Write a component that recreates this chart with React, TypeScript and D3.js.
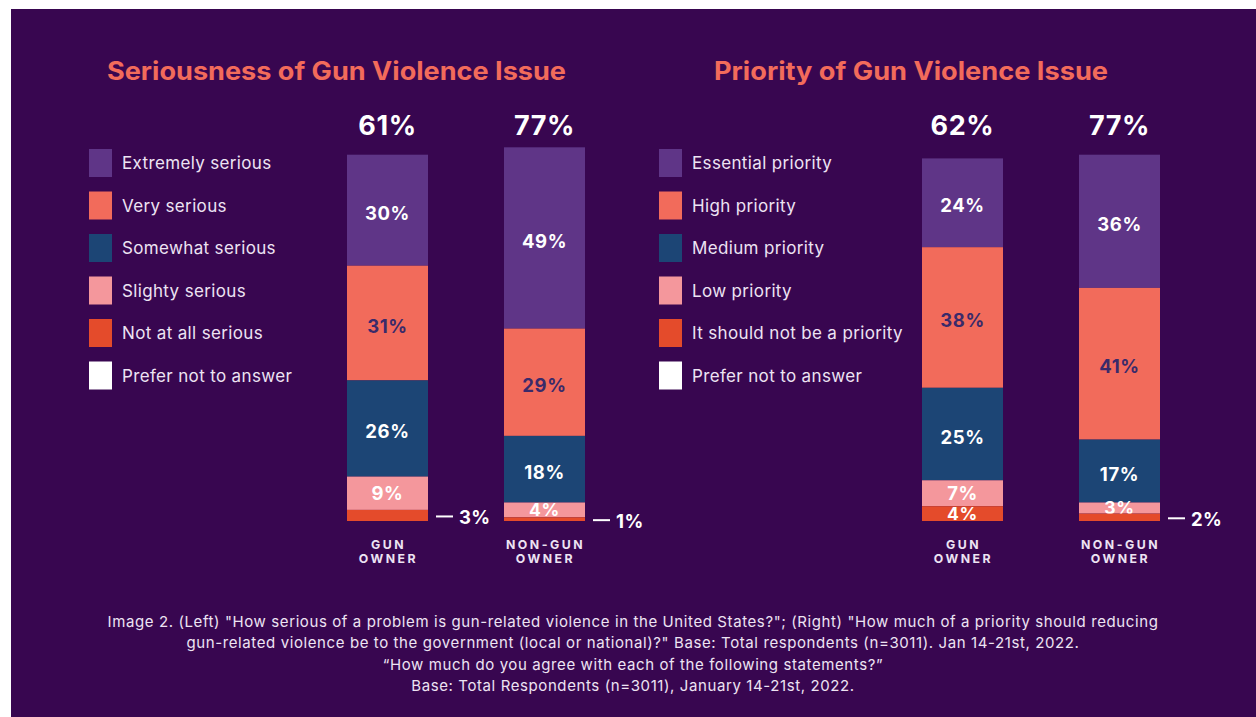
import React from "react";
import * as d3 from "d3";

const groups = ["GUN OWNER", "NON-GUN OWNER"];

const seriousCats = ["Extremely serious", "Very serious", "Somewhat serious", "Slighty serious", "Not at all serious", "Prefer not to answer"];
const seriousGun = [30, 31, 26, 9, 3, 0];
const seriousNonGun = [49, 29, 18, 4, 1, 0];
const seriousTotals = ["61%", "77%"];

const priorityCats = ["Essential priority", "High priority", "Medium priority", "Low priority", "It should not be a priority", "Prefer not to answer"];
const priorityGun = [24, 38, 25, 7, 4, 0];
const priorityNonGun = [36, 41, 17, 3, 2, 0];
const priorityTotals = ["62%", "77%"];

const catColors = ["#5F3587", "#F26B5B", "#1C4575", "#F4979C", "#E44B2B", "#FFFFFF"];
const labelColors = ["#FFFFFF", "#3A2A6A", "#FFFFFF", "#FFFFFF", "#FFFFFF", "#FFFFFF"];

const captionLines = [
  "Image 2. (Left) \"How serious of a problem is gun-related violence in the United States?\"; (Right) \"How much of a priority should reducing",
  "gun-related violence be to the government (local or national)?\" Base: Total respondents (n=3011). Jan 14-21st, 2022.",
  "\u201CHow much do you agree with each of the following statements?\u201D",
  "Base: Total Respondents (n=3011), January 14-21st, 2022.",
];

const FONT = "Inter, 'Open Sans', sans-serif";
const TEXT = "#EDE3F3";

const yScale = d3.scaleLinear().domain([0, 100]).range([521, 151]);

type PanelProps = {
  title: string;
  titleX: number;
  titleW: number;
  legendX: number;
  cats: string[];
  series: number[][];
  totals: string[];
  barXs: number[];
};

function Panel({ title, titleX, titleW, legendX, cats, series, totals, barXs }: PanelProps) {
  const barW = 81;
  const legendY = d3.scaleBand<number>().domain(d3.range(cats.length)).range([142, 397]);
  return (
    <g>
      <text x={titleX} y={80} fill="#F26B5B" fontFamily={FONT} fontWeight={700} fontSize={25} textLength={titleW} lengthAdjust="spacingAndGlyphs">
        {title}
      </text>
      {cats.map((c, i) => (
        <g key={c}>
          <rect x={legendX} y={(legendY(i) as number) + 7} width={23} height={28} fill={catColors[i]} />
          <text x={legendX + 33} y={(legendY(i) as number) + 27} fill={TEXT} fontFamily={FONT} fontSize={17} letterSpacing={0.35}>
            {c}
          </text>
        </g>
      ))}
      {series.map((vals, gi) => {
        const stack = d3.stack<number[]>().keys(d3.range(vals.length).map(String)).value((d, k) => d[+k])([vals]);
        const x0 = barXs[gi];
        const lastIdx = vals.length - 2;
        return (
          <g key={gi}>
            <text x={x0 + barW / 2} y={135} textAnchor="middle" fill="#FFFFFF" fontFamily={FONT} fontWeight={700} fontSize={27} letterSpacing={0.6}>
              {totals[gi]}
            </text>
            {stack.map((s, si) => {
              const v = vals[si];
              if (v <= 0) return null;
              const cumBelow = d3.sum(vals.slice(si + 1));
              const yTop = yScale(cumBelow + v);
              const yBot = yScale(cumBelow);
              const h = yBot - yTop;
              const mid = (yTop + yBot) / 2;
              const inside = si !== lastIdx || v >= 4;
              const shift = h > 40 ? 3 : 0;
              const fs = h < 20 ? 17.5 : 18.5;
              return (
                <g key={si}>
                  <rect x={x0} y={yTop} width={barW} height={h} fill={catColors[si]} />
                  {inside ? (
                    <text x={x0 + barW / 2} y={mid + shift} dy="0.36em" textAnchor="middle" fill={labelColors[si]} fontFamily={FONT} fontWeight={700} fontSize={fs} letterSpacing={0.6}>
                      {v}%
                    </text>
                  ) : (
                    <g>
                      <line x1={x0 + barW + 8} x2={x0 + barW + 25} y1={mid + 1} y2={mid + 1} stroke="#FFFFFF" strokeWidth={2} />
                      <text x={x0 + barW + 31} y={mid + 2} dy="0.36em" fill="#FFFFFF" fontFamily={FONT} fontWeight={700} fontSize={18.5} letterSpacing={0.4}>
                        {v}%
                      </text>
                    </g>
                  )}
                </g>
              );
            })}
            {(gi === 0 ? ["GUN", "OWNER"] : ["NON-GUN", "OWNER"]).map((w, wi) => (
              <text key={wi} x={x0 + barW / 2 + 1} y={549 + wi * 14} textAnchor="middle" fill={TEXT} fontFamily={FONT} fontWeight={700} fontSize={12.3} letterSpacing={2.5}>
                {w}
              </text>
            ))}
          </g>
        );
      })}
    </g>
  );
}

export default function App() {
  return (
    <svg width={1256} height={717} style={{ position: "absolute", left: 0, top: 0 }}>
      <rect x={0} y={0} width={1256} height={717} fill="#FFFFFF" />
      <rect x={11} y={9} width={1245} height={708} fill="#380650" />
      <Panel
        title="Seriousness of Gun Violence Issue"
        titleX={107}
        titleW={459}
        legendX={89}
        cats={seriousCats}
        series={[seriousGun, seriousNonGun]}
        totals={seriousTotals}
        barXs={[347, 504]}
      />
      <Panel
        title="Priority of Gun Violence Issue"
        titleX={714}
        titleW={394}
        legendX={659}
        cats={priorityCats}
        series={[priorityGun, priorityNonGun]}
        totals={priorityTotals}
        barXs={[922, 1079]}
      />
      {captionLines.map((l, i) => (
        <text key={i} x={633} y={627 + i * 21.3} textAnchor="middle" fill={TEXT} fontFamily={FONT} fontSize={15} letterSpacing={0.6}>
          {l}
        </text>
      ))}
    </svg>
  );
}
